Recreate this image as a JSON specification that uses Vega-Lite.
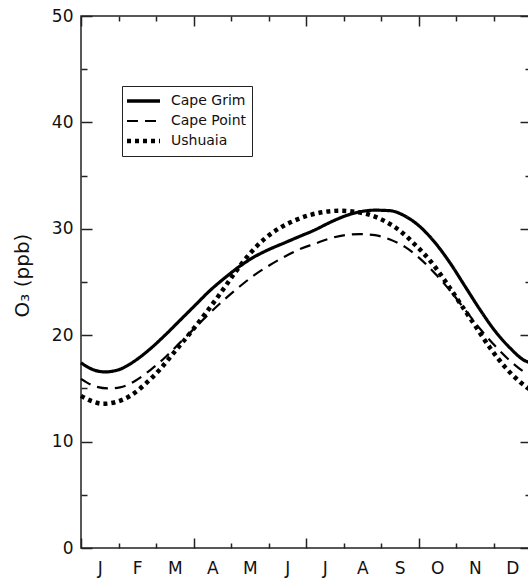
{
  "$schema": "https://vega.github.io/schema/vega-lite/v6.json",
  "width": 450,
  "height": 532,
  "autosize": "none",
  "padding": {"left": 81, "top": 16, "right": -3, "bottom": 31},
  "background": "white",
  "config": {
    "font": "DejaVu Sans",
    "view": {"stroke": "#222", "strokeWidth": 1.5},
    "axis": {"domain": false, "grid": false, "labelColor": "#111", "tickColor": "#222", "tickWidth": 1.5, "labelFontSize": 17, "titleColor": "#111"}
  },
  "data": {"values": [
    {"station": "Cape Grim", "month": 0, "o3": 17.4},
    {"station": "Cape Grim", "month": 0.37, "o3": 16.7},
    {"station": "Cape Grim", "month": 0.64, "o3": 16.55},
    {"station": "Cape Grim", "month": 1.04, "o3": 16.8},
    {"station": "Cape Grim", "month": 1.44, "o3": 17.6},
    {"station": "Cape Grim", "month": 1.84, "o3": 18.7},
    {"station": "Cape Grim", "month": 2.24, "o3": 20.0},
    {"station": "Cape Grim", "month": 2.64, "o3": 21.4},
    {"station": "Cape Grim", "month": 3.04, "o3": 22.8},
    {"station": "Cape Grim", "month": 3.44, "o3": 24.2},
    {"station": "Cape Grim", "month": 3.84, "o3": 25.4},
    {"station": "Cape Grim", "month": 4.24, "o3": 26.5},
    {"station": "Cape Grim", "month": 4.64, "o3": 27.4},
    {"station": "Cape Grim", "month": 5.04, "o3": 28.1},
    {"station": "Cape Grim", "month": 5.44, "o3": 28.7},
    {"station": "Cape Grim", "month": 5.84, "o3": 29.3},
    {"station": "Cape Grim", "month": 6.24, "o3": 29.9},
    {"station": "Cape Grim", "month": 6.64, "o3": 30.6},
    {"station": "Cape Grim", "month": 7.04, "o3": 31.2},
    {"station": "Cape Grim", "month": 7.44, "o3": 31.6},
    {"station": "Cape Grim", "month": 7.84, "o3": 31.75},
    {"station": "Cape Grim", "month": 8.24, "o3": 31.7},
    {"station": "Cape Grim", "month": 8.64, "o3": 31.2},
    {"station": "Cape Grim", "month": 9.04, "o3": 30.2},
    {"station": "Cape Grim", "month": 9.44, "o3": 28.7},
    {"station": "Cape Grim", "month": 9.84, "o3": 26.8},
    {"station": "Cape Grim", "month": 10.24, "o3": 24.6},
    {"station": "Cape Grim", "month": 10.64, "o3": 22.4},
    {"station": "Cape Grim", "month": 11.04, "o3": 20.4},
    {"station": "Cape Grim", "month": 11.44, "o3": 18.8},
    {"station": "Cape Grim", "month": 11.84, "o3": 17.6},
    {"station": "Cape Grim", "month": 12, "o3": 17.4},
    {"station": "Cape Point", "month": 0, "o3": 15.9},
    {"station": "Cape Point", "month": 0.37, "o3": 15.2},
    {"station": "Cape Point", "month": 0.72, "o3": 15.0},
    {"station": "Cape Point", "month": 1.04, "o3": 15.1},
    {"station": "Cape Point", "month": 1.44, "o3": 15.7},
    {"station": "Cape Point", "month": 1.84, "o3": 16.7},
    {"station": "Cape Point", "month": 2.24, "o3": 17.9},
    {"station": "Cape Point", "month": 2.64, "o3": 19.3},
    {"station": "Cape Point", "month": 3.04, "o3": 20.7},
    {"station": "Cape Point", "month": 3.44, "o3": 22.1},
    {"station": "Cape Point", "month": 3.84, "o3": 23.4},
    {"station": "Cape Point", "month": 4.24, "o3": 24.6},
    {"station": "Cape Point", "month": 4.64, "o3": 25.7},
    {"station": "Cape Point", "month": 5.04, "o3": 26.6},
    {"station": "Cape Point", "month": 5.44, "o3": 27.4},
    {"station": "Cape Point", "month": 5.84, "o3": 28.1},
    {"station": "Cape Point", "month": 6.24, "o3": 28.6},
    {"station": "Cape Point", "month": 6.64, "o3": 29.1},
    {"station": "Cape Point", "month": 7.04, "o3": 29.4},
    {"station": "Cape Point", "month": 7.44, "o3": 29.5},
    {"station": "Cape Point", "month": 7.84, "o3": 29.4},
    {"station": "Cape Point", "month": 8.24, "o3": 29.0},
    {"station": "Cape Point", "month": 8.64, "o3": 28.3},
    {"station": "Cape Point", "month": 9.04, "o3": 27.2},
    {"station": "Cape Point", "month": 9.44, "o3": 25.8},
    {"station": "Cape Point", "month": 9.84, "o3": 24.2},
    {"station": "Cape Point", "month": 10.24, "o3": 22.4},
    {"station": "Cape Point", "month": 10.64, "o3": 20.6},
    {"station": "Cape Point", "month": 11.04, "o3": 19.0},
    {"station": "Cape Point", "month": 11.44, "o3": 17.6},
    {"station": "Cape Point", "month": 11.84, "o3": 16.5},
    {"station": "Cape Point", "month": 12, "o3": 16.2},
    {"station": "Ushuaia", "month": 0, "o3": 14.3},
    {"station": "Ushuaia", "month": 0.29, "o3": 13.8},
    {"station": "Ushuaia", "month": 0.59, "o3": 13.55},
    {"station": "Ushuaia", "month": 0.91, "o3": 13.7},
    {"station": "Ushuaia", "month": 1.31, "o3": 14.3},
    {"station": "Ushuaia", "month": 1.71, "o3": 15.4},
    {"station": "Ushuaia", "month": 2.11, "o3": 16.8},
    {"station": "Ushuaia", "month": 2.51, "o3": 18.5},
    {"station": "Ushuaia", "month": 2.91, "o3": 20.2},
    {"station": "Ushuaia", "month": 3.31, "o3": 22.0},
    {"station": "Ushuaia", "month": 3.71, "o3": 23.9},
    {"station": "Ushuaia", "month": 4.11, "o3": 25.9},
    {"station": "Ushuaia", "month": 4.51, "o3": 27.7},
    {"station": "Ushuaia", "month": 4.91, "o3": 29.1},
    {"station": "Ushuaia", "month": 5.31, "o3": 30.1},
    {"station": "Ushuaia", "month": 5.71, "o3": 30.8},
    {"station": "Ushuaia", "month": 6.11, "o3": 31.3},
    {"station": "Ushuaia", "month": 6.51, "o3": 31.6},
    {"station": "Ushuaia", "month": 6.91, "o3": 31.7},
    {"station": "Ushuaia", "month": 7.31, "o3": 31.6},
    {"station": "Ushuaia", "month": 7.71, "o3": 31.3},
    {"station": "Ushuaia", "month": 8.11, "o3": 30.7},
    {"station": "Ushuaia", "month": 8.51, "o3": 29.8},
    {"station": "Ushuaia", "month": 8.91, "o3": 28.5},
    {"station": "Ushuaia", "month": 9.31, "o3": 27.0},
    {"station": "Ushuaia", "month": 9.71, "o3": 25.1},
    {"station": "Ushuaia", "month": 10.11, "o3": 23.0},
    {"station": "Ushuaia", "month": 10.51, "o3": 20.9},
    {"station": "Ushuaia", "month": 10.91, "o3": 18.8},
    {"station": "Ushuaia", "month": 11.31, "o3": 17.0},
    {"station": "Ushuaia", "month": 11.71, "o3": 15.6},
    {"station": "Ushuaia", "month": 12, "o3": 14.8}
  ]},
  "layer": [
    {
      "mark": {"type": "line", "interpolate": "monotone", "color": "black", "strokeCap": "butt"},
      "encoding": {
        "x": {
          "field": "month", "type": "quantitative",
          "scale": {"domain": [0, 12], "nice": false, "zero": false},
          "axis": {
            "orient": "bottom", "title": null,
            "values": [0, 1, 2, 3, 4, 5, 6, 7, 8, 9, 10, 11, 12],
            "labelExpr": "['J','F','M','A','M','J','J','A','S','O','N','D',''][datum.value]",
            "labelOffset": 18.75, "labelFlush": false, "labelOverlap": false, "labelBound": false,
            "labelPadding": {"condition": {"test": "datum.value % 3 === 0", "value": 22}, "value": 17},
            "tickSize": {"condition": {"test": "datum.value % 3 === 0", "value": -10}, "value": -5}
          }
        },
        "y": {
          "field": "o3", "type": "quantitative",
          "scale": {"domain": [0, 50], "nice": false},
          "axis": {
            "orient": "left",
            "values": [0, 5, 10, 15, 20, 25, 30, 35, 40, 45, 50],
            "labelExpr": "datum.value % 10 === 0 ? datum.label : ''",
            "labelOverlap": false, "labelFlush": false, "labelBound": false,
            "labelPadding": {"condition": {"test": "datum.value % 10 === 0", "value": 19}, "value": 14},
            "tickSize": {"condition": {"test": "datum.value % 10 === 0", "value": -11}, "value": -6},
            "title": "O₃ (ppb)", "titleFontSize": 20, "titleFontWeight": "normal",
            "titleX": -53, "titleY": 259, "titleBaseline": "alphabetic", "titleAngle": 270
          }
        },
        "strokeDash": {
          "field": "station", "type": "nominal",
          "scale": {"domain": ["Cape Grim", "Cape Point", "Ushuaia"], "range": [[1, 0], [11, 7], [4, 4]]},
          "legend": {
            "orient": "none", "legendX": 41, "legendY": 70, "title": null,
            "symbolType": "stroke", "symbolSize": 1089, "symbolStrokeColor": "black",
            "labelFontSize": 14, "labelOffset": 30, "labelColor": "#111",
            "padding": 5, "rowPadding": 0, "clipHeight": 20,
            "strokeColor": "#222", "fillColor": "white",
            "encode": {"symbols": {"update": {
              "size": {"value": 1089},
              "x": {"value": 16.5},
              "strokeWidth": {"signal": "datum.value === 'Ushuaia' ? 4.5 : datum.value === 'Cape Point' ? 2.2 : 3.5"}
            }}}
          }
        },
        "strokeWidth": {
          "condition": [
            {"test": "datum.station === 'Ushuaia'", "value": 4.5},
            {"test": "datum.station === 'Cape Point'", "value": 2.2}
          ],
          "value": 3.2
        }
      }
    },
    {
      "mark": {"type": "line", "opacity": 0},
      "encoding": {
        "x": {
          "field": "month", "type": "quantitative",
          "axis": {
            "orient": "top", "title": null, "labels": false,
            "values": [0, 1, 2, 3, 4, 5, 6, 7, 8, 9, 10, 11, 12],
            "tickSize": {"condition": {"test": "datum.value % 3 === 0", "value": -10}, "value": -5}
          }
        },
        "y": {
          "field": "o3", "type": "quantitative",
          "axis": {
            "orient": "right", "title": null, "labels": false,
            "values": [0, 5, 10, 15, 20, 25, 30, 35, 40, 45, 50],
            "tickSize": {"condition": {"test": "datum.value % 10 === 0", "value": -11}, "value": -6}
          }
        },
        "detail": {"field": "station", "type": "nominal"}
      }
    }
  ],
  "resolve": {"axis": {"x": "independent", "y": "independent"}}
}
